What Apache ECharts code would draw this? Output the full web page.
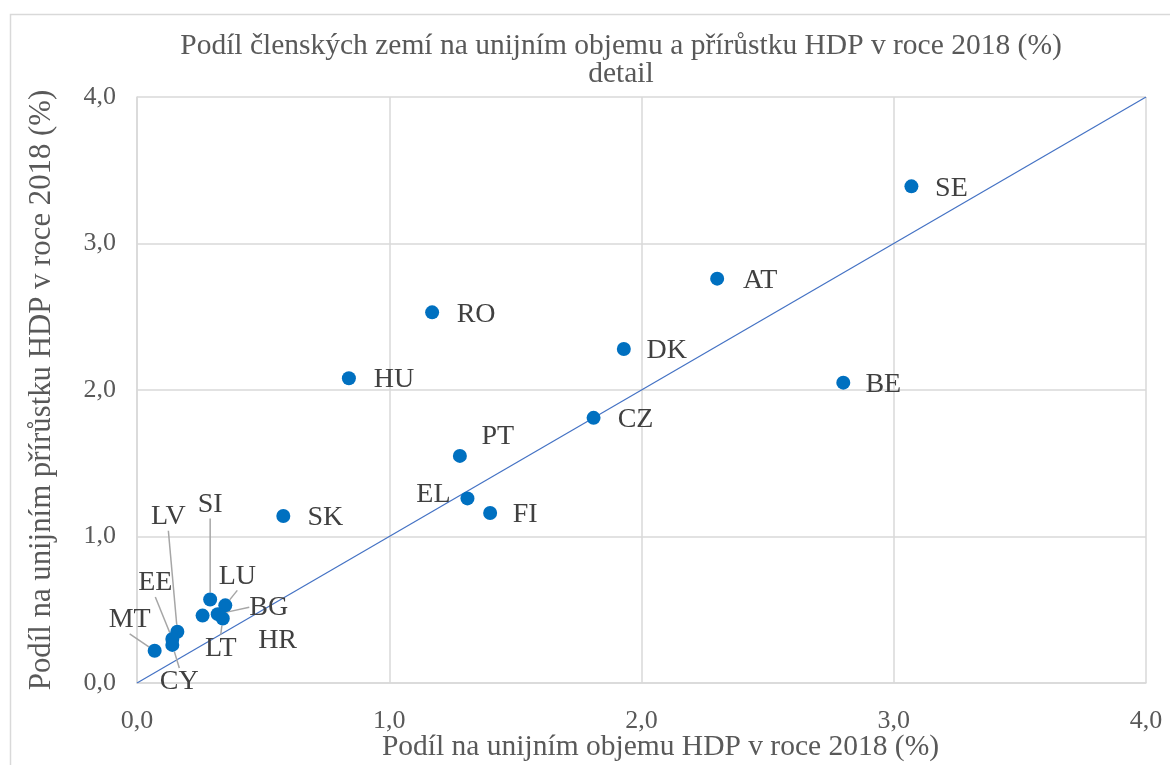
<!DOCTYPE html>
<html>
<head>
<meta charset="utf-8">
<script src="https://cdn.jsdelivr.net/npm/echarts@6/dist/echarts.min.js"></script>
<style>
html,body{margin:0;padding:0;background:#fff;}
#main{width:1170px;height:765px;}
</style>
</head>
<body>
<div id="main"></div>
<script>
// ---- data ----
const countries = ['SE','AT','DK','BE','CZ','RO','HU','PT','EL','FI','SK','SI','LU','BG','HR','LT','LV','EE','MT','CY'];
const gdpShare  = [3.07, 2.30, 1.93, 2.80, 1.81, 1.17, 0.84, 1.28, 1.31, 1.40, 0.58, 0.29, 0.35, 0.32, 0.26, 0.34, 0.16, 0.14, 0.07, 0.14];
const growthShare = [3.39, 2.76, 2.28, 2.05, 1.81, 2.53, 2.08, 1.55, 1.26, 1.16, 1.14, 0.57, 0.53, 0.47, 0.46, 0.44, 0.35, 0.30, 0.22, 0.26];
const diagonal = [[0, 0], [4, 4]];
const axisTicks = ['0,0', '1,0', '2,0', '3,0', '4,0'];

// ---- label layout (offsets in px from point centre) ----
const labelOffsets = {
  SE:[40,2], AT:[43,2], DK:[43,2], BE:[40,2], CZ:[42,2], RO:[44,2], HU:[45,1],
  PT:[38,-19], EL:[-34,-4], FI:[35,2], SK:[42,2],
  SI:[0,-95], LU:[12,-29], BG:[51,-7], HR:[75,25], LT:[-2,30],
  LV:[-9,-115], EE:[-17,-56], MT:[-25,-31], CY:[7,37]
};
const withLeader = new Set(['SI','LU','BG','LT','LV','EE','MT','CY']);

const FONT = 'Liberation Serif';
const chart = echarts.init(document.getElementById('main'), null, {renderer:'canvas'});

const points = countries.map((c, i) => ({
  name: c,
  value: [gdpShare[i], growthShare[i]],
  labelLine: {show: withLeader.has(c), lineStyle: {color: '#A6A6A6', width: 1.5}}
}));

const tickFmt = v => axisTicks[Math.round(v)] !== undefined ? axisTicks[Math.round(v)] : '';

chart.setOption({
  backgroundColor: '#fff',
  animation: false,
  graphic: [{
    type: 'rect', left: 8, top: 12, shape: {width: 1200, height: 800},
    style: {fill: 'none', stroke: '#D9D9D9', lineWidth: 1.5}, silent: true, z: -10
  }],
  title: {
    text: 'Podíl členských zemí na unijním objemu a přírůstku HDP v roce 2018 (%)\ndetail',
    left: 616, top: 27, textAlign: 'center',
    textStyle: {fontFamily: FONT, fontSize: 29.5, fontWeight: 'normal', color: '#595959', lineHeight: 28}
  },
  grid: {left: 137, right: 24, top: 97, bottom: 82, containLabel: false, outerBoundsMode: 'none'},
  xAxis: {
    type: 'value', min: 0, max: 4, interval: 1,
    name: 'Podíl na unijním objemu HDP v roce 2018 (%)',
    nameLocation: 'middle', nameGap: 49, nameMoveOverlap: false,
    nameTextStyle: {fontFamily: FONT, fontSize: 29.5, color: '#595959', padding: [0, 0, 0, 38]},
    axisLine: {show: true, lineStyle: {color: '#D9D9D9', width: 1.5}},
    axisTick: {show: false},
    axisLabel: {fontFamily: FONT, fontSize: 26, color: '#595959', margin: 25, formatter: tickFmt},
    splitLine: {show: true, lineStyle: {color: '#D9D9D9', width: 1.5}}
  },
  yAxis: {
    type: 'value', min: 0, max: 4, interval: 1,
    name: 'Podíl na unijním přírůstku HDP v roce 2018 (%)',
    nameLocation: 'middle', nameGap: 80, nameMoveOverlap: false,
    nameTextStyle: {fontFamily: FONT, fontSize: 30.8, color: '#595959'},
    axisLine: {show: true, lineStyle: {color: '#D9D9D9', width: 1.5}},
    axisTick: {show: false},
    axisLabel: {fontFamily: FONT, fontSize: 26, color: '#595959', margin: 21, formatter: tickFmt},
    splitLine: {show: true, lineStyle: {color: '#D9D9D9', width: 1.5}}
  },
  series: [
    {
      type: 'line',
      data: diagonal,
      symbol: 'none',
      lineStyle: {color: '#4472C4', width: 1.2},
      silent: true,
      z: 3
    },
    {
      type: 'scatter',
      data: points,
      symbol: 'circle',
      symbolSize: 14,
      itemStyle: {color: '#0070C0', opacity: 1},
      z: 5,
      label: {
        show: true, formatter: '{b}', position: 'inside',
        fontFamily: FONT, fontSize: 28, color: '#404040'
      },
      labelLine: {show: false, lineStyle: {color: '#A6A6A6', width: 1.5}},
      labelLayout: function (p) {
        const name = countries[p.dataIndex];
        const off = labelOffsets[name] || [0, 0];
        const cx = p.rect.x + p.rect.width / 2;
        const cy = p.rect.y + p.rect.height / 2;
        return {x: cx + off[0], y: cy + off[1], align: 'center', verticalAlign: 'middle', hideOverlap: false};
      }
    }
  ]
});
</script>
</body>
</html>
